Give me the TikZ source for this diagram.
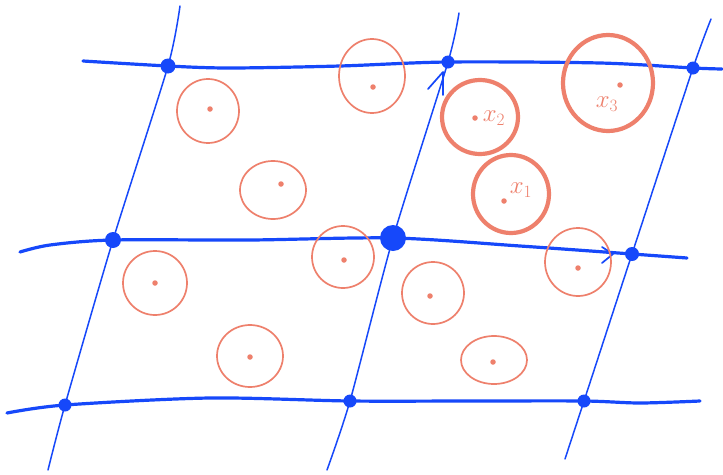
\documentclass[tikz,border=0pt]{standalone}
\usetikzlibrary{shapes.geometric}
\definecolor{pblue}{RGB}{22,72,250}
\definecolor{psal}{RGB}{238,128,108}
\begin{document}
\begin{tikzpicture}[x=1pt,y=-1pt,
  gridh/.style={pblue, line width=3.2pt, line cap=round, line join=round},
  gridv/.style={pblue, line width=1.5pt, line cap=round, line join=round},
  arrowtip/.style={pblue, line width=1.7pt, line cap=round, line join=round},
  pdot/.style={circle, fill=pblue, inner sep=0pt, minimum size=#1},
  pdot/.default=12pt,
  pcirc/.style={ellipse, draw=psal, line width=1.7pt, inner sep=0pt},
  pthick/.style={ellipse, draw=psal, line width=4.2pt, inner sep=0pt},
  sdot/.style={circle, fill=psal, inner sep=0pt, minimum size=5.5pt},
  plabel/.style={text=psal, font=\fontsize{26}{26}\selectfont, inner sep=0pt}]
\fill[white] (0,0) rectangle (723,474);
\useasboundingbox (0,0) rectangle (723,474);
% intersections
\coordinate (A1) at (168,66);
\coordinate (A2) at (448,62);
\coordinate (A3) at (693,68);
\coordinate (B1) at (113,240);
\coordinate (B2) at (393,238);
\coordinate (B3) at (632,254);
\coordinate (C1) at (65,405);
\coordinate (C2) at (350,401);
\coordinate (C3) at (584,401);
% free ends
\coordinate (ht0) at (83,61);  \coordinate (ht1) at (722,69);
\coordinate (hm0) at (20,252); \coordinate (hm1) at (687,258);
\coordinate (hb0) at (7,413);  \coordinate (hb1) at (700,401);
\coordinate (vl0) at (180,6);  \coordinate (vl1) at (48,470);
\coordinate (vm0) at (459,13); \coordinate (vm1) at (327,470);
\coordinate (vr0) at (711,19); \coordinate (vr1) at (565,459);
% horizontal lines
\draw[gridh] plot[smooth, tension=0.5] coordinates {(ht0) (A1) (230,68) (340,66) (A2) (600,63) (A3) (ht1)};
\draw[gridh] plot[smooth, tension=0.5] coordinates {(hm0) (50,245) (B1) (250,240) (B2) (520,246) (B3) (hm1)};
\draw[gridh] plot[smooth, tension=0.5] coordinates {(hb0) (C1) (210,398) (C2) (470,401) (C3) (640,403) (hb1)};
% vertical lines
\draw[gridv] plot[smooth, tension=0.4] coordinates {(vl0) (A1) (B1) (C1) (vl1)};
\draw[gridv] plot[smooth, tension=0.4] coordinates {(vm0) (A2) (B2) (C2) (vm1)};
\draw[gridv] plot[smooth, tension=0.4] coordinates {(vr0) (A3) (B3) (C3) (vr1)};
% arrowheads
\coordinate (ta) at (443,72);
\coordinate (taL) at (428,89);
\coordinate (taR) at (443,95);
\draw[arrowtip] (taL) -- (ta) -- (taR);
\coordinate (ma) at (613,254);
\coordinate (maL) at (602,247);
\coordinate (maR) at (602,263);
\draw[arrowtip] (maL) -- (ma) -- (maR);
% intersection dots
\node[pdot=15pt] (dA1) at (A1) {};
\node[pdot=13pt] (dA2) at (A2) {};
\node[pdot=13pt] (dA3) at (A3) {};
\node[pdot=16pt] (dB1) at (B1) {};
\node[pdot=26pt] (dB2) at (B2) {};
\node[pdot=14pt] (dB3) at (B3) {};
\node[pdot=13pt] (dC1) at (C1) {};
\node[pdot=13pt] (dC2) at (C2) {};
\node[pdot=13pt] (dC3) at (C3) {};
% thin circles
\node[pcirc, minimum width=62pt, minimum height=64pt] (p1) at (208,111) {};
\node[pcirc, minimum width=66pt, minimum height=58pt] (p2) at (273,190) {};
\node[pcirc, minimum width=64pt, minimum height=64pt] (p3) at (155,283) {};
\node[pcirc, minimum width=66pt, minimum height=62pt] (p4) at (250,356) {};
\node[pcirc, minimum width=66pt, minimum height=74pt] (p5) at (372,76) {};
\node[pcirc, minimum width=62pt, minimum height=62pt] (p6) at (343,257) {};
\node[pcirc, minimum width=62pt, minimum height=62pt] (p7) at (433,293) {};
\node[pcirc, minimum width=66pt, minimum height=48pt] (p8) at (494,360) {};
\node[pcirc, minimum width=66pt, minimum height=68pt] (p9) at (578,262) {};
% thick circles
\node[pthick, minimum width=76pt, minimum height=74pt] (cx2) at (480,117) {};
\node[pthick, minimum width=76pt, minimum height=78pt] (cx1) at (511,194) {};
\node[pthick, minimum width=90pt, minimum height=96pt] (cx3) at (608,83) {};
% centre dots
\node[sdot] (s1) at (210,109) {};
\node[sdot] (s2) at (281,184) {};
\node[sdot] (s3) at (155,283) {};
\node[sdot] (s4) at (250,357) {};
\node[sdot] (s5) at (373,87) {};
\node[sdot] (s6) at (344,260) {};
\node[sdot] (s7) at (430,296) {};
\node[sdot] (s8) at (493,362) {};
\node[sdot] (s9) at (578,268) {};
\node[sdot] (sx2) at (475,118) {};
\node[sdot] (sx1) at (504,201) {};
\node[sdot] (sx3) at (620,85) {};
% labels
\node[plabel] (lx2) at (494,118) {$x_2$};
\node[plabel] (lx1) at (521,190) {$x_1$};
\node[plabel] (lx3) at (607,104) {$x_3$};
\end{tikzpicture}
\end{document}
